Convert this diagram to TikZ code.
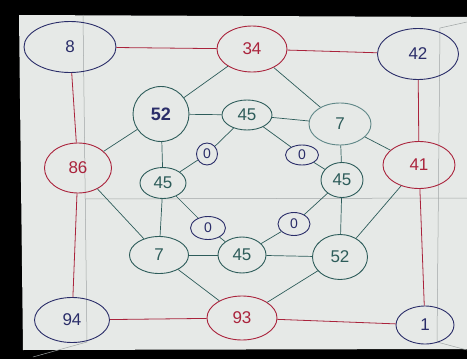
\documentclass[tikz,border=0pt]{standalone}
\usepackage{fontspec}
\setmainfont{Liberation Sans}
\usetikzlibrary{shapes.geometric}
\definecolor{navy}{RGB}{42,45,105}
\definecolor{inkred}{RGB}{170,35,60}
\definecolor{teal}{RGB}{45,92,90}
\definecolor{lteal}{RGB}{95,135,135}
\definecolor{paper}{RGB}{230,233,231}
\definecolor{fold}{RGB}{160,165,165}
\tikzset{
  blob/.style={ellipse, inner sep=0pt, line width=0.9pt, font=\fontsize{17}{17}\selectfont},
  nv/.style={blob, draw=navy, text=navy},
  rd/.style={blob, draw=inkred, text=inkred},
  tl/.style={blob, draw=teal, text=teal},
  lt/.style={blob, draw=lteal, text=teal},
  zr/.style={blob, draw=navy, text=navy, font=\fontsize{14}{14}\selectfont},
  redline/.style={draw=inkred, line width=0.8pt},
  tealline/.style={draw=teal, line width=0.7pt},
  foldline/.style={draw=fold, line width=0.5pt}
}
\begin{document}
\begin{tikzpicture}[x=1pt,y=-1pt]
\useasboundingbox (0,0) rectangle (467,359);
\fill[black] (0,0) rectangle (467,359);
\fill[paper] (19,15) -- (467,17) -- (467,349) -- (23,350) -- cycle;
% paper folds
\draw[foldline] (83,15) -- (87,342) -- (33,357);
\draw[foldline] (85,199) -- (467,198);
\draw[foldline] (440,28) -- (437,342) -- (467,350);
\draw[foldline] (440,28) -- (467,22);
% outer nodes
\node[nv, minimum width=92pt, minimum height=51pt] (n8) at (70,47) {8};
\node[rd, minimum width=70pt, minimum height=46pt] (n34) at (252,49) {34};
\node[nv, minimum width=81pt, minimum height=51pt] (n42) at (418,54) {42};
\node[rd, minimum width=67pt, minimum height=50pt] (n86) at (78,168) {86};
\node[rd, minimum width=72pt, minimum height=47pt] (n41) at (419,165) {41};
\node[nv, minimum width=75pt, minimum height=45pt] (n94) at (72,320) {94};
\node[rd, minimum width=70pt, minimum height=44pt] (n93) at (242,318) {93};
\node[nv, minimum width=58pt, minimum height=38pt] (n1) at (425,325) {1};
% inner nodes
\node[tl, minimum width=56pt, minimum height=55pt, text=navy, font=\fontsize{18}{18}\selectfont\bfseries] (a52) at (161,114) {52};
\node[tl, minimum width=50pt, minimum height=30pt] (a45t) at (247,115) {45};
\node[lt, minimum width=62pt, minimum height=42pt] (a7t) at (340,124) {7};
\node[tl, minimum width=46pt, minimum height=31pt] (a45l) at (163,183) {45};
\node[tl, minimum width=42pt, minimum height=35pt] (a45r) at (342,180) {45};
\node[tl, minimum width=59pt, minimum height=37pt] (a7b) at (159,255) {7};
\node[tl, minimum width=48pt, minimum height=36pt] (a45b) at (242,255) {45};
\node[tl, minimum width=55pt, minimum height=45pt] (a52b) at (340,257) {52};
% zeros
\node[zr, minimum width=21pt, minimum height=22pt] (z1) at (207,154) {0};
\node[zr, minimum width=33pt, minimum height=20pt] (z2) at (302,155) {0};
\node[zr, minimum width=35pt, minimum height=23pt] (z3) at (208,228) {0};
\node[zr, minimum width=32pt, minimum height=23pt] (z4) at (294,224) {0};
% red ring
\draw[redline] (n8) -- (n34);
\draw[redline] (n34) -- (n42);
\draw[redline] (n8) -- (n86);
\draw[redline] (n86) -- (n94);
\draw[redline] (n42) -- (n41);
\draw[redline] (n41) -- (n1);
\draw[redline] (n94) -- (n93);
\draw[redline] (n93) -- (n1);
% spokes
\draw[tealline] (n34) -- (a52);
\draw[tealline] (n34) -- (a7t);
\draw[tealline] (n86) -- (a52);
\draw[tealline] (n86) -- (a7b);
\draw[tealline] (n41) -- (a7t);
\draw[tealline] (n41) -- (a52b);
\draw[tealline] (n93) -- (a7b);
\draw[tealline] (n93) -- (a52b);
% inner ring
\draw[tealline] (a52) -- (a45t);
\draw[tealline] (a45t) -- (a7t);
\draw[tealline] (a52) -- (a45l);
\draw[tealline] (a7t) -- (a45r);
\draw[tealline] (a45l) -- (a7b);
\draw[tealline] (a45r) -- (a52b);
\draw[tealline] (a7b) -- (a45b);
\draw[tealline] (a45b) -- (a52b);
% zero links
\draw[tealline] (a45t) -- (z1);
\draw[tealline] (z1) -- (a45l);
\draw[tealline] (a45t) -- (z2);
\draw[tealline] (z2) -- (a45r);
\draw[tealline] (a45l) -- (z3);
\draw[tealline] (z3) -- (a45b);
\draw[tealline] (a45r) -- (z4);
\draw[tealline] (z4) -- (a45b);
\end{tikzpicture}
\end{document}
